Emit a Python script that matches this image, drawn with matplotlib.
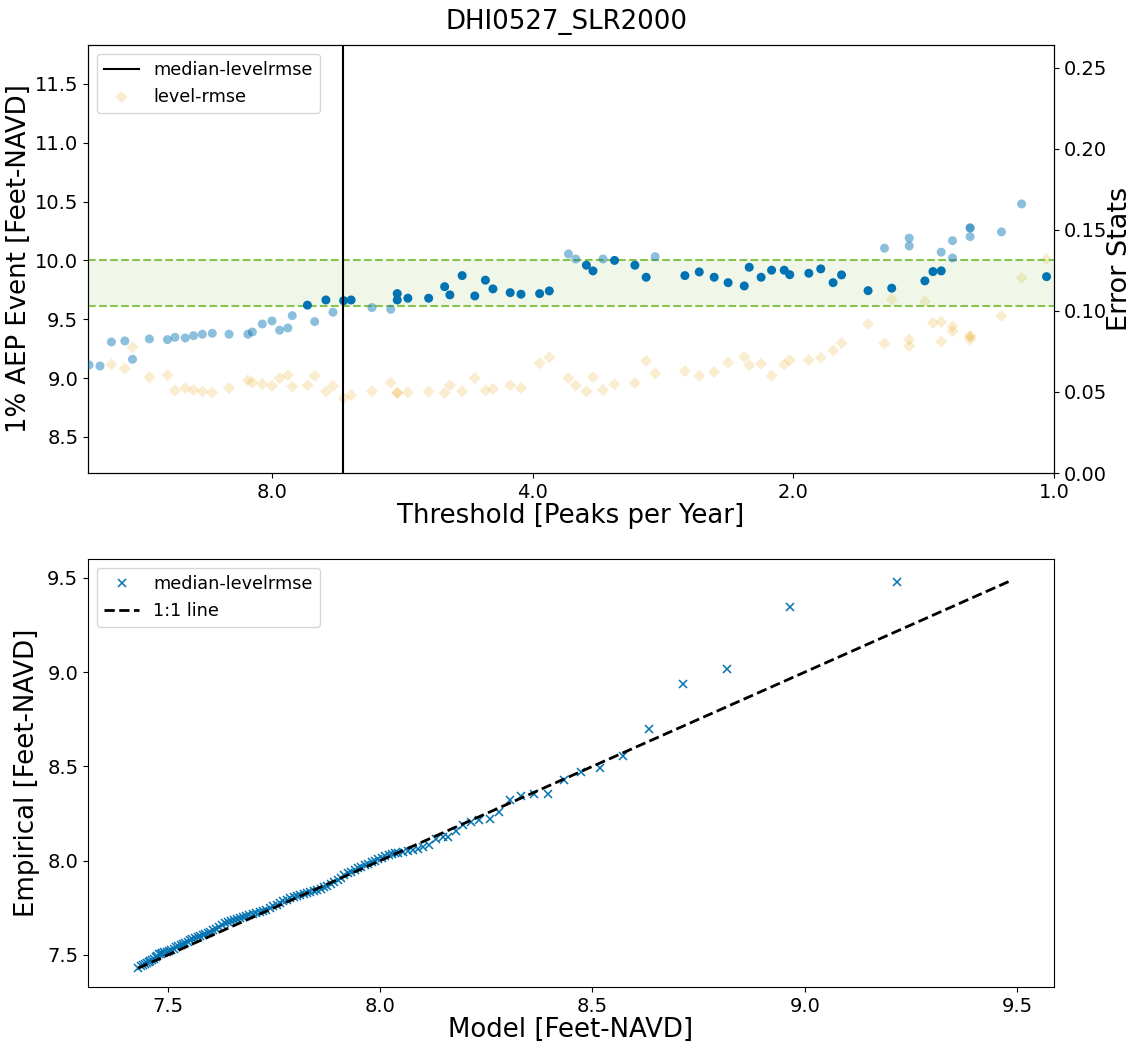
import numpy as np
import matplotlib
matplotlib.use("Agg")
import matplotlib.pyplot as plt
from matplotlib.ticker import NullLocator, FixedLocator, FixedFormatter

# ---- threshold sweep: peaks-per-year threshold, 1% AEP level, level RMSE ----
threshold = [13.03, 12.66, 12.28, 11.85, 11.61, 11.10, 10.58, 10.37, 10.09, 9.87,
             9.64, 9.39, 8.98, 8.54, 8.44, 8.22, 8.01, 7.85, 7.68, 7.59,
             7.29, 7.15, 6.94, 6.81, 6.62, 6.49, 6.14, 5.84, 5.74, 5.74,
             5.58, 5.28, 5.06, 4.99, 4.83, 4.67, 4.54, 4.45, 4.25, 4.13,
             3.93, 3.83, 3.64, 3.57, 3.47, 3.41, 3.32, 3.22, 3.05, 2.96,
             2.89, 2.67, 2.57, 2.47, 2.38, 2.28, 2.25, 2.18, 2.12, 2.05,
             2.02, 1.92, 1.86, 1.80, 1.76, 1.64, 1.57, 1.54, 1.47, 1.47,
             1.41, 1.38, 1.35, 1.35, 1.31, 1.31, 1.25, 1.25, 1.25, 1.15,
             1.09, 1.02]
aep_level = [9.112, 9.103, 9.307, 9.316, 9.160, 9.333, 9.327, 9.347, 9.341, 9.361,
             9.373, 9.381, 9.373, 9.373, 9.392, 9.460, 9.486, 9.407, 9.426, 9.531,
             9.620, 9.480, 9.664, 9.560, 9.658, 9.664, 9.599, 9.585, 9.718, 9.664,
             9.679, 9.679, 9.777, 9.707, 9.871, 9.698, 9.832, 9.758, 9.726, 9.713,
             9.718, 9.741, 10.055, 10.012, 9.959, 9.911, 10.012, 10.000, 9.959, 9.857,
             10.032, 9.871, 9.902, 9.857, 9.811, 9.783, 9.942, 9.857, 9.917, 9.917,
             9.879, 9.891, 9.928, 9.811, 9.877, 9.743, 10.104, 9.764, 10.189, 10.123,
             9.826, 9.905, 9.911, 10.070, 10.168, 10.021, 10.276, 10.276, 10.202, 10.242,
             10.480, 9.862]
level_rmse = [np.nan, np.nan, 0.0670, 0.0644, 0.0776, 0.0591, 0.0603, 0.0509, 0.0523, 0.0512,
              0.0502, 0.0496, 0.0523, 0.0572, 0.0560, 0.0549, 0.0537, 0.0585, 0.0603, 0.0533,
              0.0541, 0.0599, 0.0502, 0.0537, 0.0461, 0.0480, 0.0504, 0.0556, 0.0494, 0.0494,
              0.0498, 0.0502, 0.0494, 0.0541, 0.0504, 0.0585, 0.0509, 0.0519, 0.0541, 0.0523,
              0.0677, 0.0714, 0.0586, 0.0540, 0.0502, 0.0591, 0.0512, 0.0548, 0.0556, 0.0691,
              0.0614, 0.0628, 0.0599, 0.0623, 0.0681, 0.0716, 0.0665, 0.0675, 0.0601, 0.0669,
              0.0696, 0.0696, 0.0712, 0.0757, 0.0801, 0.0918, 0.0799, 0.1072, 0.0823, 0.0782,
              0.1058, 0.0926, 0.0932, 0.0811, 0.0904, 0.0875, 0.0844, 0.0844, 0.0823, 0.0967,
              0.1204, 0.1319]
median_threshold = 6.63
band_low, band_high = 9.612, 10.006

# ---- quantile comparison at the chosen threshold ----
model_q = [7.430, 7.436, 7.441, 7.446, 7.450, 7.455, 7.459, 7.463, 7.467, 7.471,
           7.475, 7.479, 7.483, 7.487, 7.492, 7.497, 7.502, 7.508, 7.514, 7.519,
           7.524, 7.530, 7.536, 7.541, 7.547, 7.553, 7.558, 7.564, 7.570, 7.576,
           7.582, 7.588, 7.594, 7.600, 7.606, 7.613, 7.620, 7.627, 7.634, 7.641,
           7.648, 7.655, 7.662, 7.669, 7.676, 7.684, 7.692, 7.700, 7.708, 7.716,
           7.724, 7.732, 7.740, 7.748, 7.756, 7.764, 7.772, 7.780, 7.788, 7.796,
           7.804, 7.812, 7.820, 7.828, 7.836, 7.844, 7.852, 7.860, 7.868, 7.876,
           7.884, 7.892, 7.900, 7.908, 7.916, 7.924, 7.932, 7.940, 7.948, 7.956,
           7.964, 7.972, 7.980, 7.988, 7.996, 8.004, 8.012, 8.020, 8.028, 8.036,
           8.042, 8.054, 8.065, 8.077, 8.089, 8.101, 8.115, 8.132, 8.148, 8.160,
           8.178, 8.195, 8.215, 8.234, 8.258, 8.280, 8.305, 8.332, 8.362, 8.395,
           8.432, 8.472, 8.517, 8.571, 8.634, 8.714, 8.818, 8.965, 9.218]
empirical_q = [7.433, 7.440, 7.447, 7.452, 7.457, 7.462, 7.466, 7.472, 7.480, 7.490,
               7.497, 7.503, 7.507, 7.510, 7.514, 7.518, 7.522, 7.527, 7.534, 7.540,
               7.546, 7.552, 7.558, 7.565, 7.570, 7.577, 7.582, 7.588, 7.594, 7.600,
               7.606, 7.611, 7.618, 7.624, 7.630, 7.640, 7.650, 7.660, 7.668, 7.676,
               7.681, 7.686, 7.690, 7.695, 7.700, 7.706, 7.712, 7.716, 7.720, 7.726,
               7.732, 7.740, 7.748, 7.757, 7.766, 7.776, 7.786, 7.793, 7.800, 7.806,
               7.812, 7.818, 7.824, 7.830, 7.836, 7.841, 7.846, 7.852, 7.858, 7.866,
               7.876, 7.886, 7.898, 7.910, 7.922, 7.932, 7.942, 7.951, 7.960, 7.968,
               7.976, 7.984, 7.992, 8.000, 8.008, 8.016, 8.024, 8.032, 8.036, 8.040,
               8.042, 8.045, 8.052, 8.057, 8.061, 8.071, 8.084, 8.115, 8.124, 8.128,
               8.159, 8.190, 8.207, 8.216, 8.220, 8.260, 8.321, 8.343, 8.352, 8.352,
               8.428, 8.469, 8.494, 8.556, 8.697, 8.939, 9.017, 9.345, 9.480]

BLUE = "#0173B2"
ORANGE = "#E69F00"
GREEN = "#86C44C"
LABEL_SIZE = 18.7

plt.rcParams["font.family"] = "DejaVu Sans"

fig = plt.figure(figsize=(11.33, 10.47), dpi=100)
W, H = 1133, 1047
ax1 = fig.add_axes([88 / W, 1 - 473 / H, (1054 - 88) / W, (473 - 45) / H])
ax2 = fig.add_axes([88 / W, 1 - 987 / H, (1054 - 88) / W, (987 - 559) / H])
fig.suptitle("DHI0527_SLR2000", fontsize=LABEL_SIZE, y=0.991)

thr = np.array(threshold)
lvl = np.array(aep_level)
rmse = np.array(level_rmse)
inside = (lvl >= band_low) & (lvl <= band_high)

# acceptable band around the median level
ax1.axhspan(band_low, band_high, color=GREEN, alpha=0.12, lw=0, zorder=0)
ax1.axhline(band_low, color=GREEN, ls="--", lw=1.5, zorder=1)
ax1.axhline(band_high, color=GREEN, ls="--", lw=1.5, zorder=1)

ax1.scatter(thr[~inside], lvl[~inside], s=42, color=BLUE, alpha=0.45,
            edgecolors="none", zorder=3)
ax1.scatter(thr[inside], lvl[inside], s=42, color=BLUE, alpha=1.0,
            edgecolors="none", zorder=3)
vline = ax1.axvline(median_threshold, color="black", lw=1.5, zorder=4,
                    label="median-levelrmse")

ax1.set_xscale("log")
ax1.set_xlim(13.07, 1.0)
ax1.xaxis.set_major_locator(FixedLocator([8.0, 4.0, 2.0, 1.0]))
ax1.xaxis.set_major_formatter(FixedFormatter(["8.0", "4.0", "2.0", "1.0"]))
ax1.xaxis.set_minor_locator(NullLocator())
ax1.set_ylim(8.194, 11.83)
ax1.set_yticks([8.5, 9.0, 9.5, 10.0, 10.5, 11.0, 11.5])
ax1.set_xlabel("Threshold [Peaks per Year]", fontsize=LABEL_SIZE, labelpad=1.2)
ax1.set_ylabel("1% AEP Event [Feet-NAVD]", fontsize=LABEL_SIZE)
ax1.yaxis.set_label_coords(-0.058, 0.5)
ax1.tick_params(labelsize=14)

ax1r = ax1.twinx()
diam = ax1r.scatter(thr, rmse, marker="D", s=38, color=ORANGE, alpha=0.19,
                    edgecolors="none", zorder=2, label="level-rmse")
ax1r.set_ylim(0, 0.264)
ax1r.set_yticks([0.0, 0.05, 0.10, 0.15, 0.20, 0.25])
ax1r.set_ylabel("Error Stats", fontsize=19.5)
ax1r.yaxis.set_label_coords(1.055, 0.5)
ax1r.tick_params(labelsize=14)
ax1.set_zorder(ax1r.get_zorder() + 1)
ax1.patch.set_visible(False)

ax1.legend([vline, diam], ["median-levelrmse", "level-rmse"], loc="upper left",
           fontsize=12.7, framealpha=0.8)

# ---- bottom: empirical vs model quantiles ----
ax2.plot(model_q, empirical_q, ls="none", marker="x", ms=6, mew=1.1, color=BLUE,
         label="median-levelrmse")
lo = min(min(model_q), min(empirical_q))
hi = max(max(model_q), max(empirical_q))
ax2.plot([lo, hi], [lo, hi], color="black", ls="--", lw=2, label="1:1 line")
ax2.set_xlim(7.312, 9.587)
ax2.set_ylim(7.33, 9.60)
ax2.set_xticks([7.5, 8.0, 8.5, 9.0, 9.5])
ax2.set_yticks([7.5, 8.0, 8.5, 9.0, 9.5])
ax2.set_xlabel("Model [Feet-NAVD]", fontsize=LABEL_SIZE, labelpad=1.2)
ax2.set_ylabel("Empirical [Feet-NAVD]", fontsize=LABEL_SIZE)
ax2.yaxis.set_label_coords(-0.05, 0.5)
ax2.tick_params(labelsize=14)
ax2.legend(loc="upper left", fontsize=12.7, framealpha=0.8)

fig.savefig("out.png", dpi=100)
